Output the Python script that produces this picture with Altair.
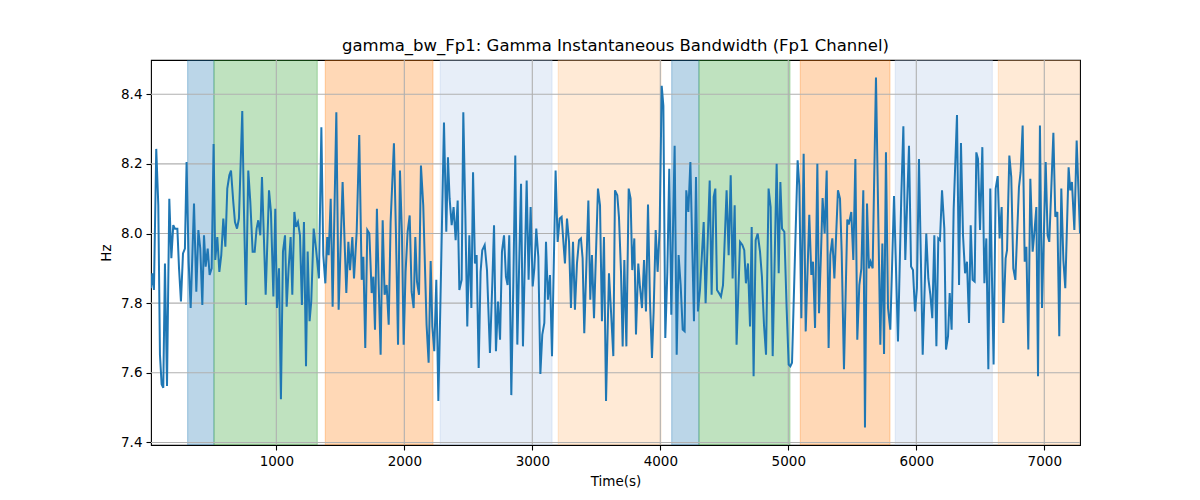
import altair as alt
import pandas as pd

# ---- line data (time in s, bandwidth in Hz) ----
time_s = [
    21, 31, 44, 62, 78, 91, 104, 117, 130, 146, 164, 180, 195, 208, 227, 240, 255, 271, 286, 299,
    315, 331, 357, 375, 391, 406, 422, 435, 448, 464, 479, 495, 510, 523, 539, 555, 570, 586, 602, 617,
    633, 646, 664, 677, 693, 708, 734, 747, 763, 781, 797, 815, 831, 846, 859, 875, 888, 904, 917, 943,
    958, 977, 992, 1005, 1021, 1036, 1052, 1068, 1081, 1096, 1112, 1125, 1141, 1154, 1169, 1185, 1200, 1216, 1232, 1245,
    1260, 1273, 1292, 1310, 1333, 1352, 1367, 1383, 1398, 1409, 1425, 1440, 1469, 1487, 1518, 1537, 1547, 1563, 1576, 1594,
    1607, 1628, 1648, 1667, 1680, 1695, 1711, 1727, 1745, 1758, 1771, 1786, 1800, 1815, 1831, 1846, 1862, 1878, 1893, 1919,
    1935, 1951, 1966, 1982, 1995, 2010, 2026, 2042, 2057, 2073, 2086, 2099, 2115, 2130, 2148, 2174, 2190, 2206, 2219, 2234,
    2250, 2266, 2281, 2310, 2328, 2341, 2354, 2370, 2385, 2401, 2417, 2430, 2448,
    2461, 2477, 2492, 2508, 2524, 2537, 2552, 2565, 2581, 2596, 2609, 2628, 2646, 2669, 2688, 2701, 2716, 2732, 2748, 2763,
    2779, 2794, 2807, 2820, 2836, 2852, 2867, 2883, 2912, 2927, 2956, 2971, 2987, 3003, 3016, 3031, 3047, 3063, 3078, 3094,
    3107, 3122, 3138, 3154, 3182, 3198, 3214, 3229, 3255, 3271, 3287, 3302, 3318, 3333, 3349, 3365, 3380, 3393, 3406, 3438,
    3453, 3466, 3482, 3513, 3529, 3544, 3560, 3576, 3599, 3615, 3633, 3646, 3664,
    3677, 3693, 3706, 3719, 3735, 3753, 3768, 3781, 3797, 3810, 3828, 3841, 3857, 3873, 3888, 3904, 3919, 3935, 3948, 3964,
    3979, 3995, 4011, 4024, 4039, 4055, 4070, 4086, 4112, 4128, 4143, 4159, 4175, 4190, 4203, 4219, 4235, 4250, 4263, 4279,
    4294, 4310, 4339, 4354, 4386, 4401, 4417, 4430, 4443, 4458, 4474, 4490, 4518, 4534, 4550, 4565, 4581, 4596, 4623, 4641,
    4656, 4669, 4685, 4701, 4714, 4729, 4745, 4761, 4779, 4794, 4810, 4826, 4846, 4862, 4878,
    4909, 4925, 4938, 4951, 4969, 4987, 5003, 5016, 5029, 5058, 5073, 5086, 5102, 5120, 5136, 5164, 5180, 5193, 5209, 5227,
    5240, 5255, 5268, 5284, 5300, 5315, 5328, 5344, 5360, 5388, 5404, 5417, 5435, 5461, 5472, 5482, 5492, 5508, 5524, 5539,
    5555, 5571, 5586, 5599, 5615, 5630, 5643, 5659, 5685, 5719, 5735, 5748, 5763, 5779, 5797, 5826, 5857, 5883, 5899, 5914,
    5943, 5959, 5974, 5990, 6005, 6021, 6050, 6078,
    6094, 6110, 6125, 6141, 6157, 6172, 6185, 6201, 6219, 6232, 6248, 6261, 6276, 6292, 6318, 6334, 6349, 6365, 6381, 6396,
    6412, 6425, 6440, 6456, 6469, 6482, 6498, 6516, 6532, 6547, 6563, 6578, 6604, 6620, 6636, 6651, 6667, 6680, 6698, 6709,
    6727, 6742, 6758, 6774, 6802, 6815, 6831, 6847, 6860, 6875, 6891, 6909, 6922, 6938, 6951, 6966, 6982, 7011, 7026, 7039,
    7071, 7086, 7102, 7117, 7133, 7149, 7164, 7190, 7203, 7216, 7235, 7253, 7279,
]

gamma_bw = [
    7.843, 7.886, 7.838, 8.243, 8.081, 7.652, 7.567, 7.557, 7.914, 7.562, 8.100, 7.929, 8.024, 8.014, 8.014, 7.900, 7.805, 7.943, 7.957, 8.205,
    7.919, 7.786, 8.086, 7.833, 8.010, 7.957, 7.795, 7.995, 7.905, 7.957, 7.881, 7.900, 8.257, 7.924, 7.990, 7.890, 7.938, 8.043, 7.962, 8.129,
    8.167, 8.181, 8.090, 8.033, 8.014, 8.043, 8.352, 8.071, 7.795, 8.181, 8.090, 7.948, 7.948, 8.014, 8.038, 7.995, 8.162, 7.976, 7.824, 8.124,
    8.062, 7.819, 8.071, 7.786, 7.900, 7.524, 7.948, 7.995, 7.790, 7.900, 7.990, 7.824, 8.062, 8.019, 8.033, 7.995, 7.795, 8.033, 7.619, 7.948,
    7.748, 7.805, 8.014, 7.957, 7.871, 8.305, 7.938, 7.857, 7.990, 7.938, 8.100, 7.790, 8.348, 7.781, 8.148, 7.938, 7.829, 7.976, 7.895, 7.990,
    7.871, 8.005, 8.283, 7.867, 7.933, 7.671, 8.010, 8.000, 7.829, 7.876, 7.724, 8.071, 7.852, 7.652, 8.038, 7.824, 7.852, 7.738, 8.033, 8.259,
    7.995, 7.681, 8.181, 7.990, 7.681, 7.890, 8.005, 8.052, 7.833, 7.786, 7.990, 7.862, 7.824, 8.195, 8.081, 7.738, 7.629, 7.921, 7.733, 7.662,
    7.867, 7.519, 7.781, 8.319, 8.005, 8.219, 8.100, 8.024, 8.076, 7.981, 8.095, 7.838, 7.867,
    8.348, 8.052, 7.733, 7.995, 7.786, 8.176, 7.914, 7.938, 7.614, 7.890, 7.952, 7.967, 7.895, 7.657, 7.862, 8.024, 7.662, 7.805, 7.695, 7.948,
    7.995, 7.876, 7.852, 7.995, 7.536, 7.862, 8.224, 7.681, 8.143, 7.676, 8.152, 7.867, 8.076, 7.848, 7.900, 8.014, 7.933, 7.597, 7.710, 7.743,
    7.976, 7.810, 7.881, 7.648, 8.181, 7.976, 8.043, 8.048, 7.914, 8.043, 7.976, 7.786, 7.976, 7.781, 7.914, 7.981, 7.986, 7.929, 7.714, 8.095,
    7.810, 7.938, 7.757, 8.129, 8.081, 7.748, 7.990, 7.519, 7.886, 7.776, 7.648, 8.124, 8.110,
    8.048, 7.890, 7.676, 7.924, 7.676, 8.129, 8.100, 7.895, 7.986, 7.710, 7.914, 7.848, 7.786, 7.924, 7.776, 8.083, 7.810, 7.643, 7.776, 8.010,
    7.890, 8.014, 8.424, 8.367, 7.700, 7.890, 8.186, 7.767, 8.252, 7.652, 7.938, 7.852, 7.724, 7.719, 8.124, 8.062, 8.205, 7.957, 7.748, 8.162,
    7.776, 7.838, 8.033, 7.800, 8.152, 7.824, 8.105, 8.129, 7.838, 7.829, 7.819, 7.852, 8.124, 7.938, 8.167, 7.871, 8.081, 7.681, 7.976, 7.967,
    7.952, 7.857, 7.914, 7.733, 8.019, 7.590, 7.981, 8.000, 7.948, 7.876, 7.738, 7.652, 8.129, 8.076, 7.648,
    8.200, 7.886, 8.148, 8.014, 8.005, 7.786, 7.624, 7.619, 7.629, 8.014, 8.210, 8.138, 7.757, 8.229, 7.719, 8.054, 7.881, 7.919, 7.729, 8.200,
    7.771, 7.938, 8.102, 8.000, 8.181, 7.671, 7.938, 7.986, 7.871, 8.124, 8.100, 7.948, 7.610, 8.040, 8.026, 8.043, 8.062, 7.924, 8.214, 7.695,
    7.852, 7.900, 8.124, 7.443, 8.086, 7.900, 7.919, 7.900, 8.448, 7.681, 7.971, 7.654, 8.233, 7.786, 7.724, 8.108, 7.690, 8.110, 8.308, 7.924,
    8.252, 7.905, 7.895, 7.776, 7.843, 8.214, 7.652, 8.000,
    7.871, 7.824, 7.757, 7.995, 7.676, 7.986, 7.981, 8.124, 8.014, 7.667, 7.705, 7.829, 7.724, 8.071, 8.340, 7.852, 8.260, 7.995, 7.886, 7.919,
    7.743, 8.024, 7.867, 7.862, 8.233, 8.214, 8.010, 8.248, 7.857, 7.986, 7.610, 8.129, 7.624, 8.129, 8.165, 7.986, 8.076, 7.743, 7.929, 7.952,
    8.224, 8.162, 7.900, 7.867, 8.133, 8.176, 8.310, 7.919, 7.962, 7.667, 8.157, 7.948, 8.000, 8.076, 7.590, 8.310, 7.786, 8.205, 7.995, 7.976,
    8.289, 8.048, 8.062, 7.705, 8.129, 7.924, 7.843, 8.190, 8.124, 8.148, 8.010, 8.267, 8.000,
]

# ---- shaded segments ----
region_start = [307, 513, 1383, 2281, 3203, 4089, 4302, 5094, 5836, 6641]
region_end = [513, 1320, 2224, 3154, 4005, 4302, 5013, 5794, 6594, 7300]
region_kind = ["a", "b", "c", "d", "e", "a", "b", "c", "d", "e"]
kind_names = ["a", "b", "c", "d", "e"]
kind_colors = ["#1f77b4", "#2ca02c", "#ff7f0e", "#aec7e8", "#ffbb78"]

# ---- ticks ----
x_ticks = [1000, 2000, 3000, 4000, 5000, 6000, 7000]
y_ticks = [7.4, 7.6, 7.8, 8.0, 8.2, 8.4]

line_df = pd.DataFrame({"t": time_s, "v": gamma_bw})
reg_df = pd.DataFrame({"start": region_start, "end": region_end, "kind": region_kind})
xt_df = pd.DataFrame({"tick": x_ticks})
yt_df = pd.DataFrame({"tick": y_ticks})

vmin, vmax = min(gamma_bw), max(gamma_bw)
pad = 0.05 * (vmax - vmin)
xscale = alt.Scale(domain=[min(time_s), max(time_s)], nice=False, zero=False)
yscale = alt.Scale(domain=[vmin - pad, vmax + pad], nice=False, zero=False)

xaxis = alt.Axis(values=x_ticks, format="d", title="Time(s)", grid=False)
yaxis = alt.Axis(values=y_ticks, format=".1f", title="Hz", grid=False)

cscale = alt.Scale(domain=kind_names, range=kind_colors)

regions = alt.Chart(reg_df).mark_rect(clip=True, fillOpacity=0.3, strokeOpacity=0.3, strokeWidth=1.2).encode(
    x=alt.X("start:Q", scale=xscale, axis=xaxis),
    x2="end:Q",
    color=alt.Color("kind:N", scale=cscale, legend=None),
    stroke=alt.Stroke("kind:N", scale=cscale, legend=None),
)

vgrid = alt.Chart(xt_df).mark_rule(color="#b0b0b0", strokeWidth=1.1).encode(
    x=alt.X("tick:Q", scale=xscale, axis=xaxis)
)
hgrid = alt.Chart(yt_df).mark_rule(color="#b0b0b0", strokeWidth=1.1).encode(
    y=alt.Y("tick:Q", scale=yscale, axis=yaxis)
)

line = alt.Chart(line_df).mark_line(color="#1f77b4", strokeWidth=2.0, clip=True).encode(
    x=alt.X("t:Q", scale=xscale, axis=xaxis),
    y=alt.Y("v:Q", scale=yscale, axis=yaxis),
)

chart = alt.layer(regions, vgrid, hgrid, line).properties(
    width=929,
    height=385,
    title=alt.TitleParams(
        "gamma_bw_Fp1: Gamma Instantaneous Bandwidth (Fp1 Channel)",
        font="DejaVu Sans", fontSize=16.5, fontWeight="normal", color="black",
        anchor="middle", offset=8, baseline="alphabetic", dy=16,
    ),
    autosize=alt.AutoSizeParams(type="none"),
    padding={"left": 143, "top": 52, "right": 100, "bottom": 50},
).configure_view(
    stroke="black", strokeWidth=1.1
).configure_axis(
    labelFont="DejaVu Sans", titleFont="DejaVu Sans",
    labelFontSize=13.5, titleFontSize=13.5,
    labelColor="black", titleColor="black", titleFontWeight="normal",
    tickColor="black", tickSize=5, tickWidth=1.1,
    domain=False, labelPadding=4, titlePadding=7,
)

chart.save("out.html", embed_options={"renderer": "svg", "actions": False})
